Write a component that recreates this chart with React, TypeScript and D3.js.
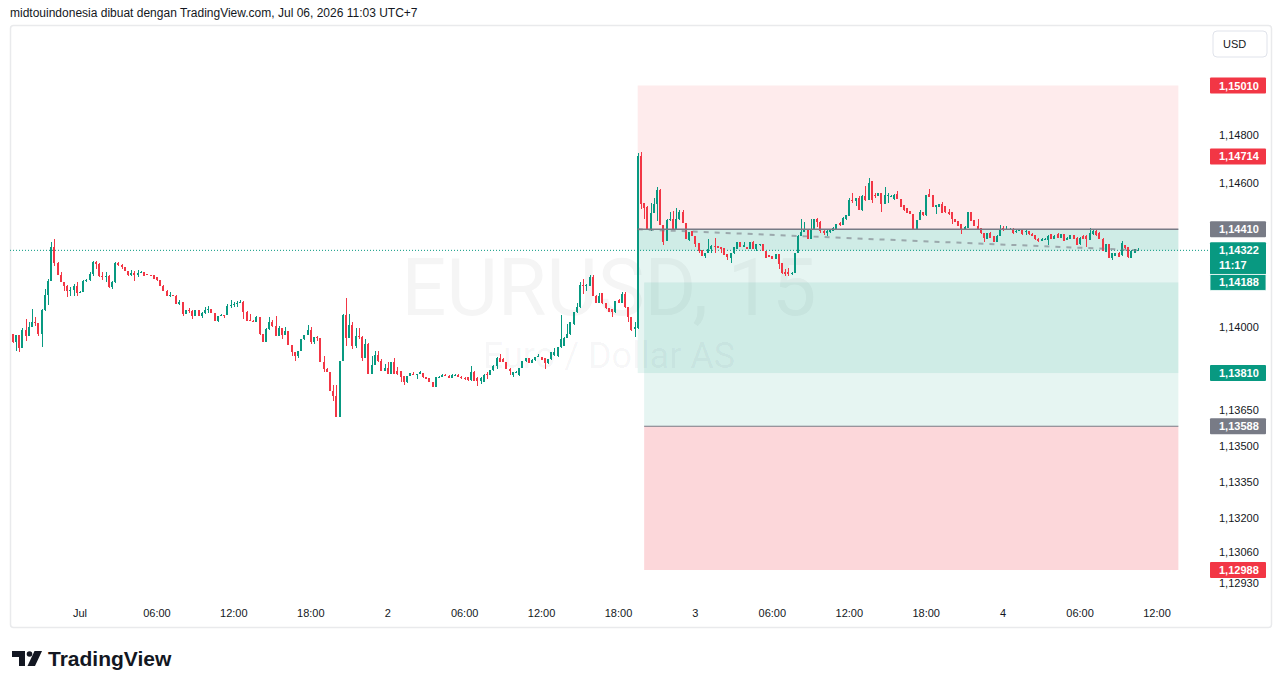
import React from "react";
import * as d3 from "d3";

type Bar = [number, number, number, number]; // open, high, low, close

const barsJun30: Bar[] = [
  [1.13975,1.13975,1.13934,1.13938],[1.13938,1.13968,1.13903,1.13968],[1.13968,1.13968,1.13896,1.13916],
  [1.13916,1.13998,1.13916,1.13989],[1.13989,1.14035,1.13942,1.13966],[1.13966,1.14021,1.13966,1.14004],
  [1.14004,1.14077,1.14004,1.14021],[1.14021,1.14042,1.14007,1.14017],[1.14017,1.14017,1.13966,1.13972],
  [1.13972,1.14077,1.1392,1.14072],[1.14072,1.1416,1.1407,1.14135],[1.14135,1.14204,1.14093,1.14195],
  [1.14195,1.14357,1.14195,1.14334],[1.14334,1.14371,1.14257,1.14271],[1.14271,1.14275,1.1422,1.1422],
  [1.1422,1.14232,1.14188,1.14188],[1.14188,1.14188,1.14153,1.14174],[1.14174,1.14177,1.14128,1.14153],
  [1.14153,1.14167,1.14132,1.14156],[1.14156,1.14181,1.14132,1.14174],[1.14174,1.14188,1.14132,1.14146],
];

const barsJul1: Bar[] = [
  [1.14146,1.14152,1.14142,1.1415],[1.1415,1.14198,1.1415,1.14195],[1.14195,1.14204,1.14188,1.142],
  [1.142,1.14232,1.14196,1.14222],[1.14222,1.14279,1.14216,1.14274],[1.14274,1.14278,1.14246,1.14267],
  [1.14267,1.14271,1.14211,1.14216],[1.14216,1.14232,1.14199,1.14209],[1.14209,1.14232,1.1419,1.14216],
  [1.14216,1.14218,1.14163,1.14167],[1.14167,1.14195,1.1416,1.14188],[1.14188,1.14275,1.14184,1.14271],
  [1.14271,1.14275,1.14257,1.14261],[1.14261,1.14264,1.14246,1.14253],[1.14253,1.14253,1.14236,1.14236],
  [1.14236,1.14236,1.14215,1.1422],[1.1422,1.14239,1.14215,1.14229],[1.14229,1.14236,1.14195,1.1422],
  [1.1422,1.14239,1.14212,1.14229],[1.14229,1.14236,1.14229,1.14232],[1.14232,1.14232,1.14215,1.14215],
  [1.14225,1.14225,1.14218,1.1422],[1.1422,1.1422,1.14218,1.14218],[1.14218,1.14218,1.14202,1.14202],
  [1.14209,1.14211,1.14195,1.14199],[1.14199,1.14199,1.14174,1.14174],[1.14174,1.14177,1.14153,1.14153],
  [1.14153,1.14156,1.14132,1.14132],[1.14132,1.14149,1.14128,1.14135],[1.14135,1.14136,1.1413,1.14132],
  [1.14132,1.14136,1.141,1.141],[1.141,1.14116,1.14093,1.14107],[1.14107,1.14107,1.1405,1.14056],
  [1.14056,1.14073,1.14056,1.14073],[1.14073,1.14081,1.14059,1.1407],[1.1407,1.14072,1.14035,1.14049],
  [1.14049,1.14072,1.14046,1.14072],[1.14072,1.14075,1.14049,1.14049],[1.14049,1.14066,1.14038,1.1406],
  [1.1406,1.14086,1.14056,1.14072],[1.14072,1.14088,1.14059,1.14077],[1.14077,1.14079,1.14059,1.14059],
  [1.14059,1.1406,1.14028,1.14028],[1.14028,1.14049,1.14025,1.14049],[1.14049,1.14056,1.14046,1.14054],
  [1.14054,1.14054,1.14038,1.14052],[1.14052,1.14098,1.14052,1.14091],[1.14091,1.14116,1.14081,1.14093],
  [1.14093,1.14107,1.14084,1.14097],[1.14097,1.14111,1.14084,1.14104],[1.14104,1.14114,1.14104,1.14107],
  [1.14107,1.14111,1.14035,1.14063],[1.14063,1.1407,1.14028,1.14028],[1.14032,1.14056,1.14028,1.14028],
  [1.14028,1.14032,1.14024,1.14024],[1.14024,1.14046,1.14024,1.14042],[1.14042,1.14042,1.13968,1.13972],
  [1.13972,1.13975,1.13938,1.13938],[1.13938,1.13996,1.13938,1.13993],[1.13993,1.14042,1.1399,1.14024],
  [1.14024,1.14032,1.14004,1.14007],[1.14007,1.14046,1.13963,1.13966],[1.13966,1.14007,1.13963,1.14],
  [1.14,1.14,1.13951,1.13968],[1.13968,1.14003,1.13968,1.13984],[1.13984,1.13984,1.13928,1.13928],
  [1.13928,1.13928,1.1388,1.13896],[1.13896,1.13896,1.13861,1.13882],[1.13882,1.139,1.13871,1.139],
  [1.139,1.13952,1.139,1.13952],[1.13952,1.13968,1.13948,1.13968],[1.13968,1.1401,1.13968,1.13989],
  [1.13989,1.14004,1.13931,1.13941],[1.13941,1.13959,1.13931,1.13959],[1.13959,1.13966,1.13945,1.13956],
  [1.13956,1.13956,1.13857,1.13857],[1.13857,1.13882,1.13816,1.13827],[1.13827,1.13829,1.13816,1.13816],
  [1.13816,1.13816,1.13733,1.13736],[1.13736,1.1376,1.13694,1.13715],[1.13715,1.1376,1.13625,1.13625],
  [1.13625,1.13861,1.13625,1.13861],[1.13861,1.14055,1.13861,1.14052],[1.14052,1.14125,1.13924,1.13958],
  [1.13958,1.14056,1.13958,1.14009],[1.14009,1.14021,1.1391,1.13924],[1.13924,1.13996,1.13915,1.13966],
  [1.13966,1.13996,1.1395,1.13959],[1.13959,1.13966,1.13861,1.13871],[1.13871,1.13952,1.13871,1.13931],
  [1.13931,1.13936,1.13806,1.13806],[1.13806,1.13882,1.13806,1.13843],[1.13843,1.13903,1.13843,1.13885],
  [1.13885,1.13903,1.13858,1.13861],[1.13861,1.13868,1.13817,1.13817],[1.13817,1.13847,1.13817,1.13831],
];

const barsJul2: Bar[] = [
  [1.13831,1.13857,1.13806,1.13806],[1.13806,1.13854,1.13806,1.13854],[1.13854,1.13871,1.13806,1.13806],
  [1.1382,1.13834,1.13803,1.13806],[1.13817,1.13817,1.13774,1.13792],[1.13799,1.13799,1.1376,1.13774],
  [1.13774,1.13799,1.13768,1.13799],[1.13799,1.13809,1.13799,1.13809],[1.13806,1.13816,1.13802,1.13802],
  [1.13802,1.13806,1.13785,1.13806],[1.13806,1.13817,1.13806,1.13813],[1.1381,1.1381,1.13788,1.13792],
  [1.13792,1.13794,1.13785,1.13785],[1.13788,1.13788,1.13771,1.13771],[1.13771,1.13771,1.1375,1.1375],
  [1.1375,1.13792,1.1375,1.13792],[1.13792,1.13799,1.13788,1.13795],[1.13795,1.13806,1.13792,1.13802],
  [1.13802,1.13804,1.13798,1.13799],[1.13799,1.138,1.13788,1.13788],[1.13788,1.13804,1.13788,1.13802],
  [1.13802,1.13806,1.13799,1.13803],[1.13803,1.13806,1.13792,1.13792],[1.13794,1.13796,1.13786,1.13789],
  [1.13789,1.13792,1.13782,1.13785],[1.13792,1.13792,1.13778,1.13781],[1.13781,1.1384,1.13778,1.13816],
  [1.13816,1.13819,1.13775,1.13775],[1.13788,1.13792,1.13757,1.13775],[1.13778,1.13792,1.13764,1.13789],
  [1.13771,1.13804,1.13771,1.13802],[1.13806,1.13813,1.13785,1.13802],[1.13802,1.13822,1.138,1.13822],
  [1.13822,1.13843,1.1382,1.1384],[1.1384,1.13876,1.13826,1.13871],[1.13871,1.13889,1.13854,1.13854],
  [1.13868,1.13871,1.13857,1.13857],[1.13857,1.13857,1.13827,1.13827],[1.13827,1.13829,1.13802,1.13817],
  [1.13802,1.13813,1.13792,1.13813],[1.13813,1.1382,1.1381,1.13816],[1.13802,1.13831,1.13798,1.13831],
  [1.13831,1.13861,1.13831,1.13861],[1.13861,1.13871,1.13857,1.13871],[1.13871,1.13874,1.13852,1.13852],
  [1.13852,1.13868,1.1385,1.13866],[1.13866,1.13875,1.13861,1.13875],[1.13875,1.13889,1.13875,1.13882],
  [1.13875,1.13878,1.13864,1.13866],[1.13871,1.13871,1.13827,1.1385],[1.1385,1.13868,1.13847,1.13868],
  [1.13868,1.13896,1.13864,1.13896],[1.13885,1.13914,1.13883,1.13899],[1.1388,1.1392,1.13877,1.1392],
  [1.13917,1.14052,1.13914,1.13952],[1.13924,1.1396,1.13922,1.13958],[1.13958,1.14014,1.13955,1.13975],
  [1.13972,1.14023,1.1397,1.14021],[1.14014,1.14065,1.14012,1.14063],[1.14063,1.14104,1.1406,1.14084],
  [1.14084,1.14188,1.14082,1.14177],[1.14177,1.14204,1.14139,1.14174],[1.14174,1.1418,1.14153,1.14177],
  [1.14174,1.14218,1.14172,1.14209],[1.14209,1.14218,1.14132,1.14132],[1.14132,1.14134,1.14104,1.14104],
  [1.14104,1.14146,1.14102,1.14132],[1.14146,1.14146,1.141,1.14102],[1.14104,1.14104,1.14078,1.1408],
  [1.1408,1.14082,1.14064,1.14066],[1.14077,1.14077,1.14042,1.14063],[1.14063,1.14111,1.14061,1.14109],
  [1.14116,1.14118,1.14102,1.14104],[1.14104,1.1415,1.14102,1.14139],[1.14139,1.1415,1.14082,1.14084],
  [1.14084,1.14086,1.14021,1.14042],[1.14042,1.14044,1.13987,1.13989],[1.13993,1.14021,1.13961,1.14003],
  [1.13996,1.14728,1.13993,1.14714],[1.14714,1.14734,1.14493,1.14514],[1.14518,1.14518,1.14452,1.14497],
  [1.14503,1.14507,1.1441,1.1441],[1.1441,1.14521,1.14403,1.14479],[1.14479,1.14542,1.14479,1.14514],
  [1.14514,1.14586,1.14445,1.14573],[1.14573,1.1458,1.14427,1.14427],[1.14427,1.14427,1.14343,1.14357],
  [1.14361,1.14452,1.14361,1.14447],[1.14447,1.14482,1.14445,1.14454],[1.14454,1.14486,1.1441,1.1441],
  [1.1441,1.145,1.1441,1.14452],[1.14452,1.14489,1.1445,1.14482],[1.14482,1.1449,1.14438,1.14438],
  [1.14438,1.14438,1.14368,1.14368],[1.14366,1.144,1.14361,1.144],[1.14403,1.14403,1.14382,1.14382],
];

const barsJul3: Bar[] = [
  [1.14382,1.14382,1.14334,1.1435],[1.14354,1.14354,1.14309,1.1432],[1.14323,1.14323,1.14299,1.14299],
  [1.14299,1.14313,1.14292,1.14313],[1.14313,1.14368,1.14313,1.14327],[1.14327,1.14343,1.14313,1.1434],
  [1.1434,1.14375,1.14313,1.14334],[1.1434,1.1434,1.14331,1.14331],[1.14337,1.14337,1.14313,1.14327],
  [1.14331,1.14331,1.14302,1.14302],[1.14306,1.14306,1.14282,1.14296],[1.14289,1.14309,1.14271,1.14309],
  [1.14309,1.14334,1.14306,1.14334],[1.14327,1.14357,1.14327,1.14357],[1.14357,1.14357,1.14334,1.14334],
  [1.14334,1.14357,1.14334,1.14343],[1.14338,1.14338,1.14327,1.14327],[1.14327,1.14357,1.14327,1.14357],
  [1.14357,1.14359,1.14327,1.14327],[1.14327,1.14348,1.1432,1.14348],[1.14343,1.14348,1.1434,1.14348],
  [1.14348,1.14348,1.1432,1.1432],[1.1432,1.1432,1.14292,1.14292],[1.14302,1.14302,1.14294,1.14296],
  [1.14299,1.14299,1.14285,1.14285],[1.14285,1.14306,1.14285,1.14306],[1.14306,1.14306,1.14243,1.14264],
  [1.14268,1.14268,1.14225,1.14227],[1.1423,1.14243,1.14216,1.14222],[1.1423,1.1425,1.14216,1.14222],
  [1.14222,1.1423,1.1422,1.14228],[1.14228,1.14313,1.14228,1.14313],[1.14313,1.14385,1.14313,1.14382],
  [1.14382,1.14452,1.1438,1.14399],[1.14399,1.1444,1.14399,1.14413],[1.14413,1.14413,1.14368,1.14371],
  [1.14371,1.14452,1.14368,1.1441],[1.1441,1.14454,1.1441,1.14452],[1.14452,1.14455,1.14421,1.14441],
  [1.14441,1.14445,1.14396,1.14403],[1.14403,1.14406,1.14386,1.14396],[1.14396,1.1441,1.14382,1.14403],
  [1.14399,1.14408,1.14396,1.14406],[1.14403,1.14419,1.14403,1.14417],[1.14413,1.14433,1.14413,1.14431],
  [1.14438,1.1444,1.14425,1.14427],[1.14427,1.14461,1.14427,1.14459],[1.14452,1.14471,1.1445,1.14468],
  [1.14466,1.14539,1.14464,1.14532],[1.14532,1.1456,1.14521,1.14528],[1.14528,1.14542,1.14507,1.14542],
  [1.14542,1.14549,1.1449,1.1449],[1.1449,1.14552,1.14487,1.14549],[1.14549,1.14591,1.14528,1.14532],
  [1.14532,1.14625,1.14532,1.14602],[1.14611,1.14613,1.14521,1.14532],[1.14552,1.14563,1.14542,1.14549],
  [1.14549,1.14563,1.14549,1.1456],[1.1456,1.14563,1.14482,1.14514],[1.14514,1.14588,1.14514,1.14552],
  [1.14549,1.14563,1.14521,1.14552],[1.14546,1.14553,1.14543,1.14549],[1.14535,1.14556,1.14533,1.14552],
  [1.14556,1.1457,1.14535,1.14535],[1.14535,1.14535,1.14504,1.14504],[1.14512,1.14512,1.14486,1.1449],
  [1.145,1.145,1.14477,1.14477],[1.14486,1.14488,1.14473,1.14475],[1.14475,1.14475,1.14413,1.14413],
  [1.14413,1.1445,1.14411,1.14449],[1.14449,1.14489,1.14447,1.14482],[1.14482,1.14484,1.14466,1.14468],
  [1.14468,1.14554,1.14466,1.14552],[1.14556,1.14577,1.14544,1.14546],[1.14552,1.14552,1.14504,1.14504],
  [1.14504,1.14512,1.14473,1.1451],[1.14504,1.14516,1.14502,1.14514],[1.14514,1.14524,1.14477,1.14477],
  [1.14507,1.14509,1.14478,1.1448],[1.14482,1.14493,1.14471,1.14473],[1.1448,1.1448,1.14431,1.14452],
  [1.14452,1.14454,1.1444,1.14442],[1.14445,1.14445,1.14424,1.14424],[1.14431,1.14431,1.14389,1.14407],
  [1.1441,1.14422,1.14408,1.1442],[1.14417,1.14484,1.14415,1.14482],[1.14482,1.14484,1.14443,1.14445],
  [1.14449,1.14449,1.14422,1.14424],[1.14424,1.14452,1.14411,1.14413],[1.14417,1.14417,1.14391,1.14393],
  [1.14393,1.14395,1.14357,1.14375],[1.14371,1.14396,1.14371,1.14393],[1.14396,1.14399,1.14373,1.14375],
  [1.14382,1.14382,1.14355,1.14357],[1.14357,1.14384,1.14355,1.14382],[1.14382,1.14427,1.1438,1.14407],
];

const barsJul4: Bar[] = [
  [1.14417,1.14424,1.14403,1.14407],[1.14407,1.14422,1.14405,1.14413],[1.14409,1.14415,1.14405,1.14413],
  [1.14413,1.14415,1.14389,1.14396],[1.14399,1.14405,1.14396,1.14403],[1.14403,1.14413,1.14401,1.14407],
  [1.14407,1.14409,1.14387,1.14389],[1.14399,1.14413,1.14385,1.14403],[1.14401,1.14403,1.14387,1.14389],
  [1.14392,1.14394,1.1438,1.14382],[1.14385,1.14387,1.14366,1.14368],[1.14371,1.14373,1.14357,1.14359],
  [1.14361,1.14373,1.14359,1.14371],[1.14366,1.14373,1.14364,1.14371],[1.14366,1.14384,1.14343,1.14382],
  [1.14389,1.14391,1.14369,1.14371],[1.14371,1.14384,1.14369,1.14382],[1.14389,1.14394,1.14373,1.14375],
  [1.14375,1.14391,1.14373,1.14389],[1.14389,1.14391,1.14359,1.14361],[1.14366,1.14377,1.14364,1.14375],
  [1.14371,1.14387,1.14369,1.14385],[1.14385,1.14387,1.14369,1.14371],[1.14375,1.14377,1.14343,1.14345],
  [1.14348,1.14377,1.14346,1.14375],[1.14382,1.14387,1.14369,1.14371],[1.14382,1.14385,1.14338,1.14371],
  [1.14366,1.14417,1.14364,1.14396],[1.14389,1.14413,1.14387,1.14403],[1.14403,1.14405,1.14383,1.14385],
  [1.14396,1.14398,1.14369,1.14371],[1.14371,1.14373,1.14318,1.1432],[1.14317,1.1435,1.14315,1.14348],
  [1.14348,1.1435,1.1429,1.14292],[1.14289,1.14311,1.14282,1.14309],[1.14299,1.14312,1.14297,1.1431],
  [1.14313,1.14315,1.14294,1.14296],[1.14302,1.14361,1.143,1.14352],[1.14343,1.14345,1.14328,1.1433],
  [1.14334,1.14336,1.14292,1.14296],[1.14292,1.14322,1.1429,1.1432],[1.14313,1.14329,1.14311,1.14327],
  [1.1432,1.1433,1.14318,1.14322],
];

const firstBarTime = Date.UTC(2026, 5, 30, 18, 45);
const barMinutes = 15;

const timeTickStart = Date.UTC(2026, 6, 1, 0, 0);
const timeTickLabels = ["Jul", "06:00", "12:00", "18:00", "2", "06:00", "12:00", "18:00", "3", "06:00", "12:00", "18:00", "4", "06:00", "12:00"];

const priceTicks = [1.148, 1.146, 1.14, 1.1365, 1.135, 1.1335, 1.132, 1.1306, 1.1293];

const shortPosition = { entry: 1.1441, stop: 1.1501, target: 1.1381, start: "2026-07-02T19:30:00Z", end: "2026-07-04T13:40:00Z" };
const longPosition = { entry: 1.13588, stop: 1.12988, target: 1.14188, start: "2026-07-02T20:00:00Z", end: "2026-07-04T13:40:00Z" };
const extraMarker = 1.14714;
const lastPrice = 1.14322;
const countdown = "11:17";

const headerText = "midtouindonesia dibuat dengan TradingView.com, Jul 06, 2026 11:03 UTC+7";

const UP = "#089981";
const DOWN = "#f23645";
const GREY = "#787b86";
const TEXT = "#131722";
const FONT = "'Liberation Sans', Arial, sans-serif";

const fmt = (v: number) => d3.format(".5f")(v).replace(".", ",");

export default function App() {
  const W = 1281, H = 688;
  const bars: Bar[] = [...barsJun30, ...barsJul1, ...barsJul2, ...barsJul3, ...barsJul4];
  const times = bars.map((_, i) => new Date(firstBarTime + i * barMinutes * 60000));

  const x = d3.scaleUtc()
    .domain([new Date(timeTickStart), new Date(timeTickStart + 14 * 6 * 3600000)])
    .range([80, 1157]);
  const y = d3.scaleLinear().domain([1.12988, 1.1501]).range([570, 85.5]);

  const tickTimes = timeTickLabels.map((_, i) => new Date(timeTickStart + i * 6 * 3600000));

  const aX1 = x(new Date(shortPosition.start));
  const aX2 = x(new Date(shortPosition.end));
  const bX1 = x(new Date(longPosition.start));
  const bX2 = x(new Date(longPosition.end));

  const lastX = x(times[times.length - 1]);

  const badges = [
    { v: shortPosition.stop, c: DOWN },
    { v: extraMarker, c: DOWN },
    { v: shortPosition.entry, c: GREY },
    { v: shortPosition.target, c: UP },
    { v: longPosition.entry, c: GREY },
    { v: longPosition.stop, c: DOWN },
  ];

  const rect = (x1: number, x2: number, p1: number, p2: number, fill: string, key: string) => {
    const ya = y(Math.max(p1, p2));
    const yb = y(Math.min(p1, p2));
    return <rect key={key} x={x1} y={ya} width={x2 - x1} height={yb - ya} fill={fill} />;
  };

  return (
    <svg width={W} height={H} style={{ position: "absolute", left: 0, top: 0, background: "#fff" }} fontFamily={FONT}>
      <rect x={0} y={0} width={W} height={H} fill="#fff" />
      <text x={10} y={17} fontSize={12} fill={TEXT}>{headerText}</text>
      {/* frame */}
      <rect x={10.5} y={25.5} width={1261} height={602} rx={3} fill="none" stroke="#e9eaec" strokeWidth={1.5} />

      {/* watermark */}
      <text x={609} y={315} fontSize={79} textAnchor="middle" fill="rgba(19,23,34,0.045)" fontFamily="Roboto, sans-serif">EURUSD, 15</text>
      <text x={609} y={368} fontSize={36} textAnchor="middle" fill="rgba(19,23,34,0.045)" fontFamily="Roboto, sans-serif">Euro / Dollar AS</text>

      {/* position tools */}
      {rect(aX1, aX2, shortPosition.entry, shortPosition.stop, "rgba(242,54,69,0.1)", "a-stop")}
      {rect(aX1, aX2, shortPosition.entry, shortPosition.target, "rgba(8,153,129,0.1)", "a-tgt")}
      {rect(aX1, aX2, shortPosition.entry, lastPrice, "rgba(8,153,129,0.1)", "a-pnl")}
      {rect(bX1, bX2, longPosition.entry, longPosition.target, "rgba(8,153,129,0.1)", "b-tgt")}
      {rect(bX1, bX2, longPosition.entry, longPosition.stop, "rgba(242,54,69,0.2)", "b-stop")}

      {/* last price dotted line */}
      <line x1={10} x2={1209} y1={y(lastPrice)} y2={y(lastPrice)} stroke={UP} strokeWidth={1} strokeDasharray="1 2" />

      {/* candles */}
      <g shapeRendering="crispEdges">
        {bars.map((b, i) => {
          const [o, h, l, c] = b;
          const cx = Math.round(x(times[i]));
          const col = c >= o ? UP : DOWN;
          const top = y(Math.max(o, c));
          const bot = y(Math.min(o, c));
          return (
            <g key={i}>
              <rect x={cx} y={y(h)} width={1} height={Math.max(1, y(l) - y(h))} fill={col} />
              <rect x={cx - 1} y={top} width={2} height={Math.max(1, bot - top)} fill={col} />
            </g>
          );
        })}
      </g>

      {/* entry lines */}
      <line x1={aX1} x2={aX2} y1={y(shortPosition.entry)} y2={y(shortPosition.entry)} stroke={GREY} strokeWidth={1.5} />
      <line x1={bX1} x2={bX2} y1={y(longPosition.entry)} y2={y(longPosition.entry)} stroke={GREY} strokeWidth={1.2} />
      {/* dashed connector */}
      <line x1={aX1} y1={y(shortPosition.entry)} x2={lastX + 4} y2={y(lastPrice)} stroke="rgba(120,123,134,0.6)" strokeWidth={2} strokeDasharray="5 6" />

      {/* time axis */}
      {tickTimes.map((t, i) => (
        <text key={i} x={x(t)} y={617} fontSize={11} fill={TEXT} textAnchor="middle">{timeTickLabels[i]}</text>
      ))}

      {/* price axis */}
      <rect x={1213} y={31} width={54} height={26} rx={4} fill="#fff" stroke="#e0e3eb" />
      <text x={1223} y={48} fontSize={11} fill={TEXT}>USD</text>
      {priceTicks.map((p, i) => (
        <text key={i} x={1219} y={y(p) - 1} fontSize={11} fill={TEXT} dominantBaseline="central">{fmt(p)}</text>
      ))}
      {badges.map((b, i) => (
        <g key={i}>
          <rect x={1210} y={y(b.v) - 8} width={56} height={16} rx={1} fill={b.c} />
          <text x={1219} y={y(b.v)} fontSize={11} fontWeight="bold" fill="#fff" dominantBaseline="central">{fmt(b.v)}</text>
        </g>
      ))}
      <g>
        <rect x={1210} y={y(lastPrice) - 8} width={56} height={32} rx={1} fill={UP} />
        <text x={1219} y={y(lastPrice)} fontSize={11} fontWeight="bold" fill="#fff" dominantBaseline="central">{fmt(lastPrice)}</text>
        <text x={1219} y={y(lastPrice) + 15} fontSize={11} fontWeight="bold" fill="#fff" dominantBaseline="central">{countdown}</text>
      </g>
      <g>
        <rect x={1210} y={y(longPosition.target) - 8} width={56} height={16} rx={1} fill={UP} stroke="#fff" strokeWidth={0.8} />
        <text x={1219} y={y(longPosition.target)} fontSize={11} fontWeight="bold" fill="#fff" dominantBaseline="central">{fmt(longPosition.target)}</text>
      </g>

      {/* TradingView logo */}
      <g fill={TEXT}>
        <path d="M12 651 H25 V666 H19 V657 H12 Z" />
        <circle cx={29.5} cy={654} r={2.8} />
        <path d="M34.5 651 H42 L35 666 H27.5 Z" />
        <text x={48} y={666} fontSize={21} fontWeight="bold" fontFamily="'Liberation Sans', Arial, sans-serif">TradingView</text>
      </g>
    </svg>
  );
}
